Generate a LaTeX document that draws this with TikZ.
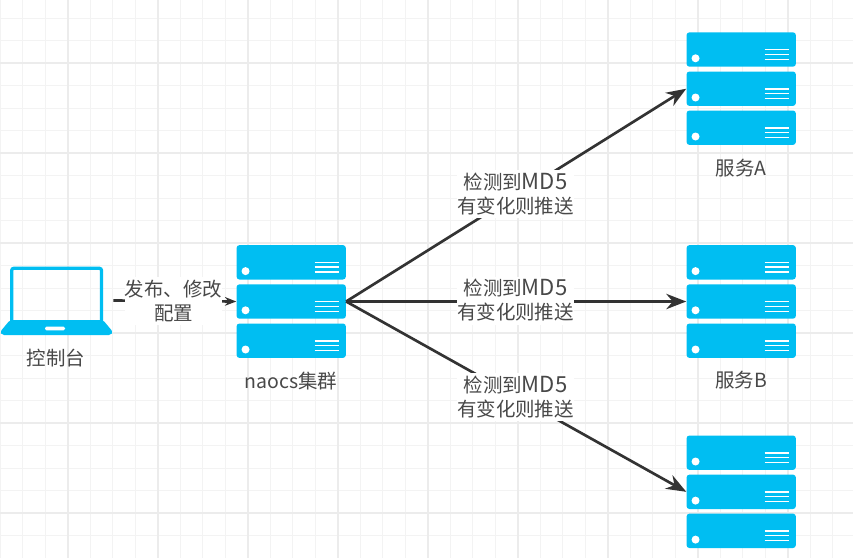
\documentclass[tikz,border=0pt]{standalone}
\usepackage{fontspec}
\setmainfont{Noto Sans CJK SC}
\usetikzlibrary{arrows.meta,calc}
\definecolor{rackblue}{HTML}{00BEF2}
\definecolor{linkdark}{HTML}{333333}
\definecolor{labelgray}{HTML}{484848}
\definecolor{gridminor}{HTML}{F3F3F3}
\definecolor{gridmajor}{HTML}{ECECEC}
\newcommand{\mdfive}{{\fontsize{16.6}{18}\selectfont MD5}}
\tikzset{
  x=0.75pt,y=-0.75pt,
  txt/.style={font=\fontsize{14.6}{18}\selectfont,text=labelgray,align=center,inner sep=0pt},
  edgelabel/.style={txt,fill=white,minimum width=87.75pt,minimum height=36pt},
  rackunit/.style={fill=rackblue,rounded corners=2.2pt,minimum width=82pt,minimum height=25.8pt,inner sep=0pt,
    path picture={
      \coordinate (pnw) at (path picture bounding box.north west);
      \fill[white] ($(pnw)+(9,26)$) circle (4);
      \draw[white,line width=1.2pt]
        ($(pnw)+(78,17.3)$) -- ($(pnw)+(102.5,17.3)$)
        ($(pnw)+(78,22)$) -- ($(pnw)+(102.5,22)$)
        ($(pnw)+(78,27)$) -- ($(pnw)+(102.5,27)$);
    }},
  biglink/.style={draw=linkdark,line width=2pt,-{Stealth[length=15pt,width=11.5pt]}},
  smalllink/.style={draw=linkdark,line width=2pt,-{Stealth[length=8.5pt,width=6.5pt]}},
}
\begin{document}
\begin{tikzpicture}
\useasboundingbox (0,0) rectangle (864,558);
\fill[white] (0,0) rectangle (864,558);
% grid
\begin{scope}
\clip (0,0) rectangle (853,558);
\foreach \i in {0,...,37}{\draw[gridminor,line width=1pt] ({0.2+22.5*\i},0) -- ({0.2+22.5*\i},558);}
\foreach \j in {0,...,24}{\draw[gridminor,line width=1pt] (0,{-4.3+22.5*\j}) -- (853,{-4.3+22.5*\j});}
\foreach \i in {0,...,8}{\draw[gridmajor,line width=1.3pt] ({67.7+90*\i},0) -- ({67.7+90*\i},558);}
\foreach \j in {0,...,5}{\draw[gridmajor,line width=1.3pt] (0,{63+90*\j}) -- (853,{63+90*\j});}
\end{scope}
% laptop
\node[minimum width=84.75pt,minimum height=51.75pt,inner sep=0pt] (con) at (56.5,300.5) {};
\draw[rackblue,line width=2.4pt,rounded corners=1.5pt] (11.7,322) -- (11.7,268.3) -- (101.5,268.3) -- (101.5,322);
\fill[rackblue,rounded corners=1.5pt] (10,320) -- (103,320) -- (113,332) -- (111,335) -- (2,335) -- (0,332) -- cycle;
\fill[white,rounded corners=1pt] (45,326.7) rectangle (65,330.3);
\node[txt] (conlabel) at (56,358) {控制台};
% racks
\node[rackunit] (n1) at (291.2,262.3) {};
\node[rackunit] (n2) at (291.2,301.5) {};
\node[rackunit] (n3) at (291.2,340.7) {};
\node[txt] (nlabel) at (291,381) {naocs集群};
\node[rackunit] (a1) at (741.2,49.5) {};
\node[rackunit] (a2) at (741.2,88.7) {};
\node[rackunit] (a3) at (741.2,127.7) {};
\node[txt] (alabel) at (741,168) {服务A};
\node[rackunit] (b1) at (741.2,262.3) {};
\node[rackunit] (b2) at (741.2,301.5) {};
\node[rackunit] (b3) at (741.2,340.7) {};
\node[txt] (blabel) at (741,380) {服务B};
\node[rackunit] (c1) at (741.2,452.7) {};
\node[rackunit] (c2) at (741.2,491.8) {};
\node[rackunit] (c3) at (741.2,530.8) {};
% links
\draw[smalllink] (con.east) -- (n2.west);
\draw[biglink] (n2.east) -- (a2.west);
\draw[biglink] (n2.east) -- (b2.west);
\draw[biglink] (n2.east) -- (c2.west);
% link labels
\node[txt,fill=white,minimum width=72.75pt,minimum height=36pt] (l0) at (173.5,301) {发布、修改\\配置};
\node[edgelabel] (l1) at (515.5,194) {检测到\mdfive\\有变化则推送};
\node[edgelabel] (l2) at (515.5,300.5) {检测到\mdfive\\有变化则推送};
\node[edgelabel] (l3) at (515.5,397) {检测到\mdfive\\有变化则推送};
\end{tikzpicture}
\end{document}
